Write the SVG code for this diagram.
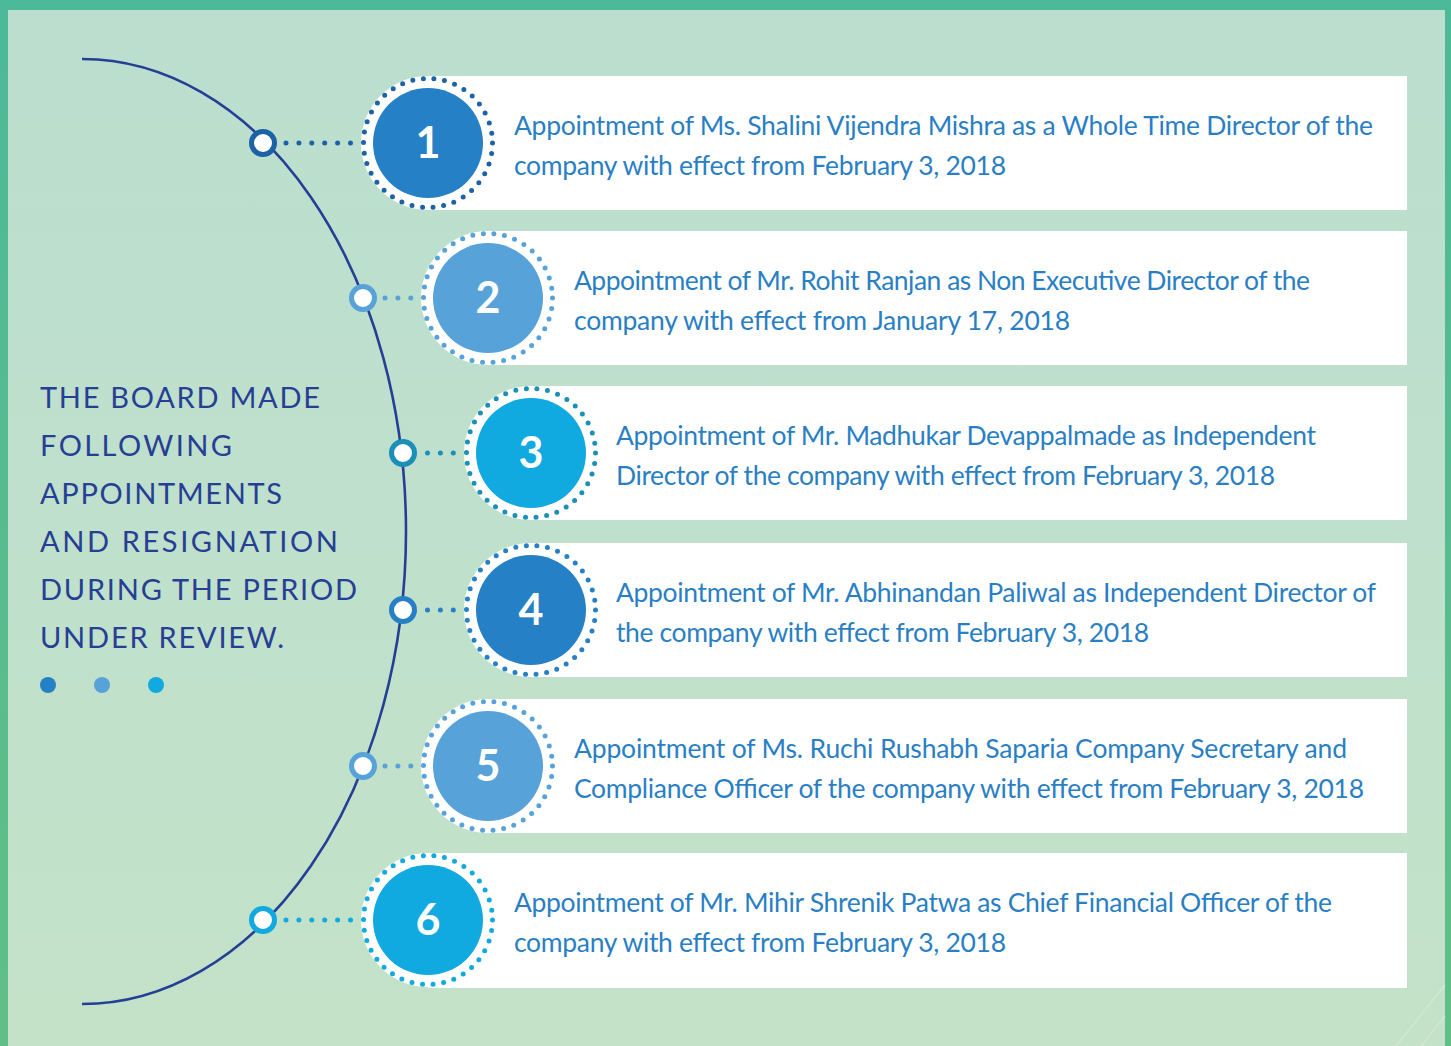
<svg xmlns="http://www.w3.org/2000/svg" width="1451" height="1046" viewBox="0 0 1451 1046">
  <defs>
    <linearGradient id="bg" x1="0" y1="0" x2="0" y2="1">
      <stop offset="0" stop-color="#bbdecf"/>
      <stop offset="1" stop-color="#c3e2c8"/>
    </linearGradient>
    <linearGradient id="edge" x1="0" y1="0" x2="0" y2="1">
      <stop offset="0" stop-color="#4cb998"/>
      <stop offset="1" stop-color="#60bf86"/>
    </linearGradient>
    <style>
      .card { fill: #ffffff; }
      .disc { fill: #ffffff; }
      .ring { fill: none; stroke-width: 5; stroke-linecap: round; stroke-dasharray: 0 10.67; }
      .link { fill: none; stroke-width: 5; stroke-linecap: round; stroke-dasharray: 0 12.9; }
      .knob { fill: #ffffff; stroke-width: 5; }
      .num { font-family: Lato, "Open Sans", sans-serif; font-weight: 700; font-size: 43px; fill: #ffffff; text-anchor: middle; }
      .body { font-family: Lato, "Noto Sans", sans-serif; font-size: 26.5px; fill: #2a7fc4; }
      .head { font-family: Lato, "Noto Sans", sans-serif; font-size: 29px; fill: #263f94; }
      .c-dark { stroke: #1b63a6; }
      .c-mid { stroke: #2680c5; }
      .c-light { stroke: #58a2da; }
      .c-teal { stroke: #1a8fb8; }
      .c-cyan { stroke: #10a9e0; }
    </style>
  </defs>

  <!-- frame and background -->
  <rect x="0" y="0" width="1451" height="1046" fill="url(#edge)"/>
  <rect x="8" y="10" width="1437" height="1036" fill="url(#bg)"/>
  <path d="M1445 985 L1396 1046 M1445 1016 L1421 1046" stroke="#d6ecd8" stroke-width="1.2" fill="none" opacity="0.8"/>

  <!-- heading -->
  <g id="heading">
    <text class="head" x="40" y="408" textLength="280" lengthAdjust="spacing">THE BOARD MADE</text>
    <text class="head" x="40" y="456" textLength="192" lengthAdjust="spacing">FOLLOWING</text>
    <text class="head" x="40" y="504" textLength="242" lengthAdjust="spacing">APPOINTMENTS</text>
    <text class="head" x="40" y="552" textLength="298" lengthAdjust="spacing">AND RESIGNATION</text>
    <text class="head" x="40" y="600" textLength="317" lengthAdjust="spacing">DURING THE PERIOD</text>
    <text class="head" x="40" y="648" textLength="244" lengthAdjust="spacing">UNDER REVIEW.</text>
    <circle cx="48" cy="685" r="8" fill="#2680c5"/>
    <circle cx="102" cy="685" r="8" fill="#58a2da"/>
    <circle cx="156" cy="685" r="8" fill="#10a9e0"/>
  </g>

  <!-- cards with numbered badges -->
  <g id="node1">
    <rect class="card" x="428" y="76" width="979" height="134"/>
    <circle class="disc" cx="428" cy="143" r="67"/>
    <circle class="ring c-dark" cx="428" cy="143" r="64.5"/>
    <circle cx="428" cy="143" r="55" fill="#2680c5"/>
    <text class="num" x="428" y="158">1</text>
    <text class="body" x="514" y="135" textLength="859" lengthAdjust="spacing">Appointment of Ms. Shalini Vijendra Mishra as a Whole Time Director of the</text>
    <text class="body" x="514" y="175" textLength="492" lengthAdjust="spacing">company with effect from February 3, 2018</text>
  </g>

  <g id="node2">
    <rect class="card" x="488" y="231" width="919" height="134"/>
    <circle class="disc" cx="488" cy="298" r="67"/>
    <circle class="ring c-light" cx="488" cy="298" r="64.5"/>
    <circle cx="488" cy="298" r="55" fill="#58a2da"/>
    <text class="num" x="488" y="313">2</text>
    <text class="body" x="574" y="290" textLength="736" lengthAdjust="spacing">Appointment of Mr. Rohit Ranjan as Non Executive Director of the</text>
    <text class="body" x="574" y="330" textLength="496" lengthAdjust="spacing">company with effect from January 17, 2018</text>
  </g>

  <g id="node3">
    <rect class="card" x="531" y="386" width="876" height="134"/>
    <circle class="disc" cx="531" cy="453" r="67"/>
    <circle class="ring c-teal" cx="531" cy="453" r="64.5"/>
    <circle cx="531" cy="453" r="55" fill="#10a9e0"/>
    <text class="num" x="531" y="468">3</text>
    <text class="body" x="616" y="445" textLength="700" lengthAdjust="spacing">Appointment of Mr. Madhukar Devappalmade as Independent</text>
    <text class="body" x="616" y="485" textLength="659" lengthAdjust="spacing">Director of the company with effect from February 3, 2018</text>
  </g>

  <g id="node4">
    <rect class="card" x="531" y="543" width="876" height="134"/>
    <circle class="disc" cx="531" cy="610" r="67"/>
    <circle class="ring c-mid" cx="531" cy="610" r="64.5"/>
    <circle cx="531" cy="610" r="55" fill="#2680c5"/>
    <text class="num" x="531" y="625">4</text>
    <text class="body" x="616" y="602" textLength="760" lengthAdjust="spacing">Appointment of Mr. Abhinandan Paliwal as Independent Director of</text>
    <text class="body" x="616" y="642" textLength="533" lengthAdjust="spacing">the company with effect from February 3, 2018</text>
  </g>

  <g id="node5">
    <rect class="card" x="488" y="699" width="919" height="134"/>
    <circle class="disc" cx="488" cy="766" r="67"/>
    <circle class="ring c-light" cx="488" cy="766" r="64.5"/>
    <circle cx="488" cy="766" r="55" fill="#58a2da"/>
    <text class="num" x="488" y="781">5</text>
    <text class="body" x="574" y="758" textLength="773" lengthAdjust="spacing">Appointment of Ms. Ruchi Rushabh Saparia Company Secretary and</text>
    <text class="body" x="574" y="798" textLength="790" lengthAdjust="spacing">Compliance Officer of the company with effect from February 3, 2018</text>
  </g>

  <g id="node6">
    <rect class="card" x="428" y="853" width="979" height="135"/>
    <circle class="disc" cx="428" cy="920" r="67"/>
    <circle class="ring c-cyan" cx="428" cy="920" r="64.5"/>
    <circle cx="428" cy="920" r="55" fill="#10a9e0"/>
    <text class="num" x="428" y="935">6</text>
    <text class="body" x="514" y="912" textLength="818" lengthAdjust="spacing">Appointment of Mr. Mihir Shrenik Patwa as Chief Financial Officer of the</text>
    <text class="body" x="514" y="952" textLength="492" lengthAdjust="spacing">company with effect from February 3, 2018</text>
  </g>

  <!-- timeline arc, dotted links and knobs -->
  <g id="connectors">
    <path d="M82 59 A324 472.5 0 0 1 82 1004" fill="none" stroke="#253f94" stroke-width="2.6"/>
    <line class="link c-dark" x1="286" y1="143" x2="352" y2="143"/>
    <line class="link c-light" x1="385" y1="298" x2="412" y2="298"/>
    <line class="link c-teal" x1="427.5" y1="453" x2="454" y2="453"/>
    <line class="link c-mid" x1="427.5" y1="610" x2="454" y2="610"/>
    <line class="link c-light" x1="385" y1="766" x2="412" y2="766"/>
    <line class="link c-cyan" x1="286" y1="920" x2="352" y2="920"/>
    <circle class="knob c-dark" cx="263" cy="143" r="11.5"/>
    <circle class="knob c-light" cx="363" cy="298" r="11.5"/>
    <circle class="knob c-teal" cx="403" cy="453" r="11.5"/>
    <circle class="knob c-mid" cx="403" cy="610" r="11.5"/>
    <circle class="knob c-light" cx="363" cy="766" r="11.5"/>
    <circle class="knob c-cyan" cx="263" cy="920" r="11.5"/>
  </g>
</svg>
